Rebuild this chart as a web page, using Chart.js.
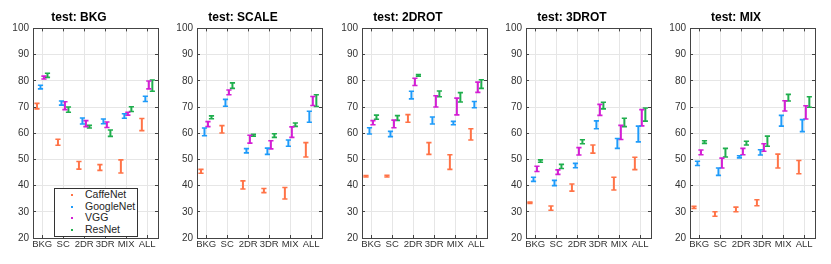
<!DOCTYPE html>
<html>
<head>
<meta charset="utf-8">
<title>test results</title>
<script src="https://cdn.jsdelivr.net/npm/chart.js@4.4.0/dist/chart.umd.min.js"></script>
<style>
body { margin: 0; background: #fff; }
#wrap { position: relative; width: 831px; height: 264px; font-family: "Liberation Sans", Arial, sans-serif; }
#wrap canvas { position: absolute; top: 0; }
#legend { position: absolute; left: 54px; top: 188px; width: 82px; height: 47px; border: 1px solid #333;
          background: #fff; font-size: 10.5px; color: #262626; }
#legend .row { position: relative; height: 11.6px; line-height: 11.6px; }
#legend .dot { position: absolute; left: 16px; top: 5px; width: 2px; height: 2px; }
#legend .txt { position: absolute; left: 30px; top: 0; }
</style>
</head>
<body>
<div id="wrap">
  <canvas id="c0" width="164" height="264" style="left:0px"></canvas>
  <canvas id="c1" width="164" height="264" style="left:164px"></canvas>
  <canvas id="c2" width="164" height="264" style="left:329px"></canvas>
  <canvas id="c3" width="164" height="264" style="left:493px"></canvas>
  <canvas id="c4" width="164" height="264" style="left:657px"></canvas>
  <div id="legend"></div>
</div>
<script>
const categories = ['BKG', 'SC', '2DR', '3DR', 'MIX', 'ALL'];
const tests = ['BKG', 'SCALE', '2DROT', '3DROT', 'MIX'];
const models = ['CaffeNet', 'GoogleNet', 'VGG', 'ResNet'];
const colors = ['#ff7347', '#1e9bfa', '#d41ed4', '#1fae4d'];
const yTicks = [20, 30, 40, 50, 60, 70, 80, 90, 100];

// [low, high] per training category, one row per test set
const caffeNet = [
  [[69.3, 71.4], [55.4, 57.7], [46.3, 49.2], [45.8, 48.0], [44.8, 49.8], [61.0, 65.6]],
  [[44.7, 46.2], [60.1, 62.9], [38.7, 41.8], [37.3, 38.9], [34.9, 39.3], [50.9, 56.4]],
  [[43.3, 43.8], [43.3, 43.9], [64.2, 67.1], [51.9, 56.4], [46.2, 51.8], [57.4, 61.7]],
  [[33.2, 33.7], [30.6, 32.2], [37.9, 40.6], [52.4, 55.5], [38.3, 43.2], [46.1, 50.8]],
  [[31.3, 32.1], [28.3, 30.0], [30.0, 31.8], [32.3, 34.6], [46.7, 52.0], [44.5, 49.6]]
];
const googleNet = [
  [[76.9, 78.3], [70.7, 72.3], [63.5, 65.8], [63.6, 65.4], [65.7, 67.4], [72.1, 74.1]],
  [[59.0, 62.0], [70.3, 72.9], [52.5, 54.1], [51.9, 54.3], [55.0, 57.4], [64.2, 68.4]],
  [[59.7, 62.1], [58.7, 60.7], [73.1, 76.0], [63.5, 66.2], [63.2, 64.5], [69.7, 72.1]],
  [[41.6, 43.2], [40.0, 42.0], [46.8, 48.5], [61.7, 64.7], [54.2, 58.0], [56.7, 62.7]],
  [[47.7, 49.3], [43.9, 46.7], [50.6, 51.4], [51.7, 53.7], [62.7, 66.8], [60.6, 65.2]]
];
const vgg = [
  [[80.7, 81.8], [69.0, 72.0], [62.5, 64.8], [62.2, 64.3], [66.9, 68.0], [76.9, 79.9]],
  [[62.5, 64.4], [74.7, 76.5], [56.2, 59.2], [54.0, 57.1], [58.4, 62.4], [70.6, 74.0]],
  [[63.2, 64.8], [62.1, 65.0], [78.2, 81.0], [70.0, 74.3], [67.0, 73.4], [75.6, 79.5]],
  [[45.4, 47.4], [44.3, 46.0], [51.7, 54.5], [66.8, 71.0], [57.6, 63.0], [62.8, 69.0]],
  [[51.8, 53.6], [46.7, 50.5], [51.8, 54.2], [53.1, 56.0], [68.5, 72.4], [65.4, 70.5]]
];
const resNet = [
  [[81.3, 82.9], [68.0, 70.0], [62.0, 63.0], [58.8, 61.2], [68.3, 70.1], [76.0, 80.3]],
  [[65.5, 66.6], [77.1, 79.2], [58.9, 59.6], [58.4, 59.8], [62.6, 63.9], [70.2, 74.7]],
  [[65.3, 66.9], [64.9, 66.7], [81.8, 82.4], [73.9, 76.1], [71.9, 75.5], [77.1, 80.4]],
  [[48.9, 49.8], [46.5, 48.1], [56.0, 57.5], [69.3, 71.8], [62.5, 65.7], [64.6, 69.6]],
  [[56.1, 57.1], [50.9, 54.2], [55.5, 56.9], [55.0, 58.9], [72.3, 74.8], [69.9, 73.9]]
];
const allModels = [caffeNet, googleNet, vgg, resNet];
const offsets = [-0.25, -0.083, 0.083, 0.25];

const frameColor = '#444';
const gridColor = '#e6e6e6';
const textColor = '#333';
const fontFamily = '"Liberation Sans", Arial, sans-serif';

// each error bar is two points (low, high) followed by a gap
function errorBarData(rows, off)
{
    var pts = [];
    rows.forEach(function (r, i) {
        var x = i + 1 + off;
        pts.push({x: x, y: r[0]});
        pts.push({x: x, y: r[1]});
        pts.push({x: x, y: null});
    });
    return pts;
}

function intTicks(scale)
{
    scale.ticks = categories.map(function (c, i) { return {value: i + 1}; });
}

function makeChart(idx)
{
    var datasets = models.map(function (m, k) {
        return {
            label: m,
            data: errorBarData(allModels[k][idx], offsets[k]),
            showLine: true,
            spanGaps: false,
            borderColor: colors[k],
            borderWidth: 2,
            pointStyle: 'line',
            pointRadius: 2.6,
            pointBorderWidth: 1.6,
            pointBorderColor: colors[k],
            pointBackgroundColor: colors[k]
        };
    });

    new Chart(document.getElementById('c' + idx), {
        type: 'scatter',
        data: {datasets: datasets},
        options: {
            responsive: false,
            animation: false,
            events: [],
            layout: {padding: {top: 0, right: 6, bottom: 0, left: 0}},
            plugins: {
                legend: {display: false},
                tooltip: {enabled: false},
                title: {
                    display: true,
                    text: 'test: ' + tests[idx],
                    color: '#000',
                    font: {family: fontFamily, size: 12, weight: 'bold', lineHeight: 1.2},
                    padding: {top: 10, bottom: 4}
                }
            },
            scales: {
                x: {
                    type: 'linear', position: 'bottom', min: 0.56, max: 6.52,
                    afterBuildTicks: intTicks,
                    afterFit: function (s) { s.height = 26; },
                    grid: {color: gridColor, tickColor: frameColor, tickLength: -3},
                    border: {display: true, color: frameColor},
                    ticks: {
                        color: textColor, padding: 4, maxRotation: 0, autoSkip: false,
                        font: {family: fontFamily, size: 9.5},
                        callback: function (v) { return categories[v - 1]; }
                    }
                },
                x2: {
                    type: 'linear', position: 'top', min: 0.56, max: 6.52,
                    afterBuildTicks: intTicks,
                    afterFit: function (s) { s.height = 0; },
                    grid: {drawOnChartArea: false, tickColor: frameColor, tickLength: -3},
                    border: {display: true, color: frameColor},
                    ticks: {display: false}
                },
                y: {
                    min: 20, max: 100,
                    afterBuildTicks: function (s) { s.ticks = yTicks.map(function (v) { return {value: v}; }); },
                    afterFit: function (s) { s.width = 33; },
                    grid: {color: gridColor, tickColor: frameColor, tickLength: -3},
                    border: {display: true, color: frameColor},
                    ticks: {color: textColor, padding: 7, font: {family: fontFamily, size: 10}}
                },
                y2: {
                    type: 'linear', position: 'right', min: 20, max: 100,
                    afterBuildTicks: function (s) { s.ticks = yTicks.map(function (v) { return {value: v}; }); },
                    afterFit: function (s) { s.width = 0; },
                    grid: {drawOnChartArea: false, tickColor: frameColor, tickLength: -3},
                    border: {display: true, color: frameColor},
                    ticks: {display: false}
                }
            }
        }
    });
}

function buildLegend()
{
    var box = document.getElementById('legend');
    models.forEach(function (m, k) {
        var row = document.createElement('div');
        row.className = 'row';
        var dot = document.createElement('span');
        dot.className = 'dot';
        dot.style.background = colors[k];
        var txt = document.createElement('span');
        txt.className = 'txt';
        txt.textContent = m;
        row.appendChild(dot);
        row.appendChild(txt);
        box.appendChild(row);
    });
}

for (var i = 0; i < tests.length; i++) {
    makeChart(i);
}
buildLegend();
</script>
</body>
</html>
